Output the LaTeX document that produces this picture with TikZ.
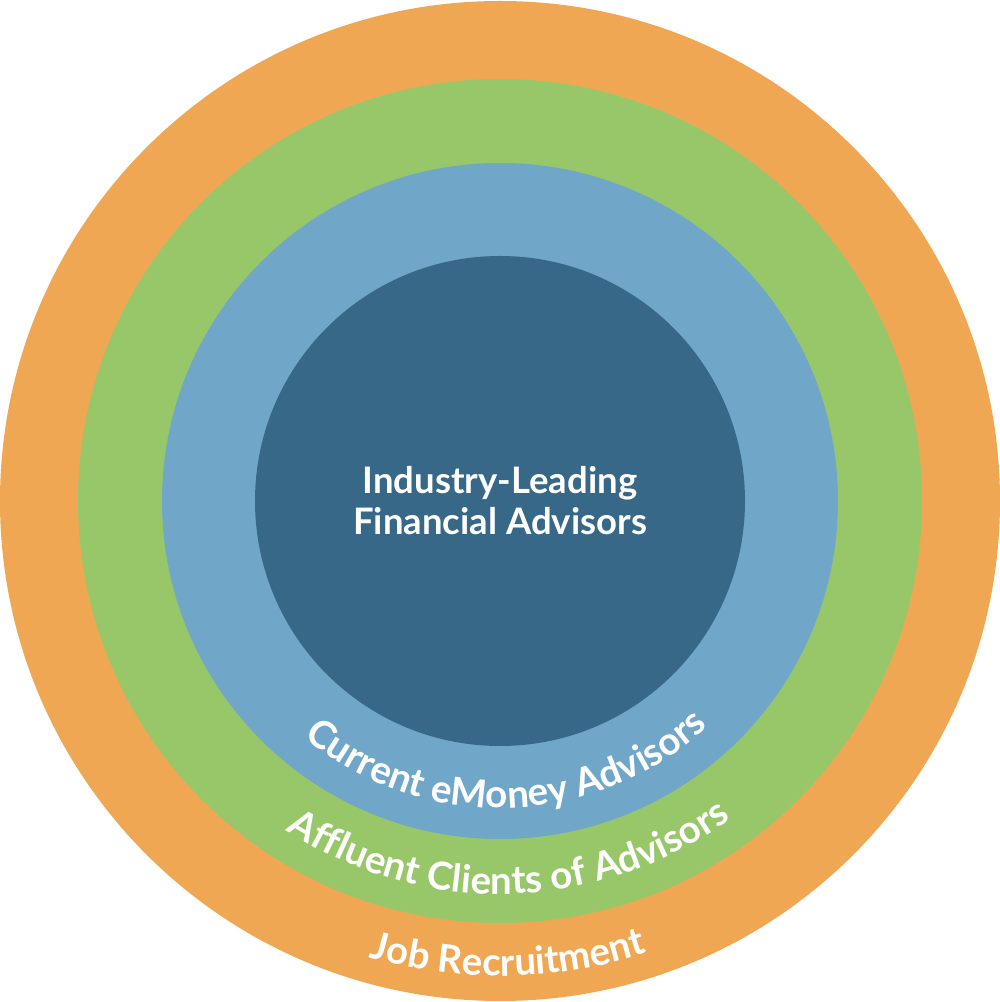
\documentclass[tikz,border=0pt]{standalone}
\usepackage{fontspec}
\setmainfont{Lato}
\usetikzlibrary{decorations.text}
\definecolor{ringorange}{HTML}{F0A753}
\definecolor{ringgreen}{HTML}{98C76A}
\definecolor{ringblue}{HTML}{70A7C8}
\definecolor{coredark}{HTML}{376888}
\begin{document}
\begin{tikzpicture}[x=1pt,y=1pt,
  ring/.style={circle, inner sep=0pt, outer sep=0pt, draw=none},
  ringlabel/.style={decorate, decoration={text along path, text align=center,
    text={|\fontsize{38.5}{42}\selectfont\bfseries\color{white}|#1}}}
]
\useasboundingbox (0,0) rectangle (1000,1002);
\coordinate (c) at (500,501);
\node[ring, fill=ringorange, minimum size=1000pt] (outer) at (c) {};
\node[ring, fill=ringgreen, minimum size=844pt] (green) at (c) {};
\node[ring, fill=ringblue, minimum size=676pt] (blue) at (c) {};
\node[ring, fill=coredark, minimum size=490pt] (core) at (c) {};
\node[text=white, font=\fontsize{36.5}{41}\selectfont\bfseries, align=center, inner sep=0pt] (coretext) at (c) {Industry-Leading\\Financial Advisors};
\path[ringlabel={Current eMoney Advisors}] ([shift={(196.5:307)}]c) arc[start angle=196.5, end angle=346.5, radius=307];
\path[ringlabel={Affluent Clients of Advisors}] ([shift={(196.5:393)}]c) arc[start angle=196.5, end angle=346.5, radius=393];
\path[ringlabel={Job Recruitment}] ([shift={(221:475)}]c) arc[start angle=221, end angle=321, radius=475];
\end{tikzpicture}
\end{document}
